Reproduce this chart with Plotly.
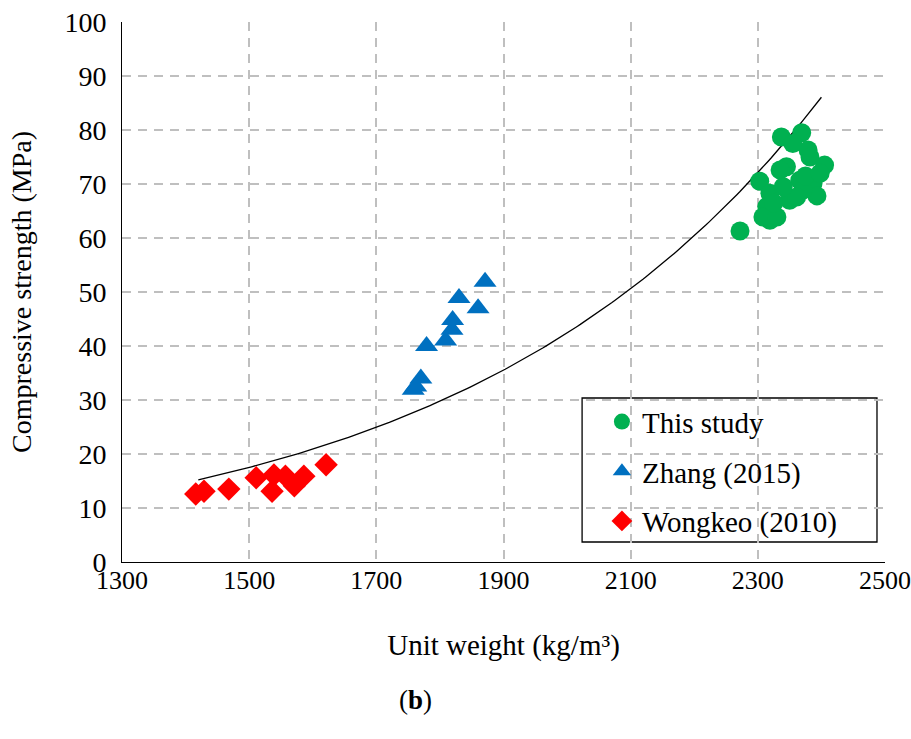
import numpy as np
import plotly.graph_objects as go

# This study
this_x = [2272, 2337, 2369, 2379, 2382, 2345, 2405, 2303, 2335, 2366, 2387, 2319, 2393,
          2314, 2350, 2319, 2308, 2371, 2361, 2330, 2355, 2375, 2340, 2398, 2325]
this_y = [61.3, 78.7, 79.5, 76.3, 75.0, 73.2, 73.5, 70.5, 72.6, 70.7, 70.2, 68.3, 67.8,
          65.8, 67.0, 63.3, 63.9, 68.9, 67.6, 63.9, 77.5, 71.5, 69.5, 72.0, 66.5]
# Zhang (2015)
zhang_x = [1758, 1762, 1770, 1779, 1809, 1819, 1820, 1830, 1860, 1871]
zhang_y = [31.9, 32.5, 34.0, 40.0, 41.0, 43.0, 44.8, 48.9, 47.0, 51.9]
# Wongkeo (2010)
wong_x = [1416, 1429, 1468, 1511, 1536, 1539, 1557, 1571, 1586, 1621]
wong_y = [12.6, 13.1, 13.5, 15.6, 13.1, 16.1, 15.9, 14.1, 15.9, 18.0]

# exponential trendline y = a*exp(b*x)
trend_a = 1.233
trend_b = 0.001769
trend_range = [1420, 2400]

x_ticks = [1300, 1500, 1700, 1900, 2100, 2300, 2500]
y_ticks = list(range(0, 101, 10))

tx = np.linspace(trend_range[0], trend_range[1], 200)
ty = trend_a * np.exp(trend_b * tx)

fig = go.Figure()
fig.add_trace(go.Scatter(x=tx, y=ty, mode="lines", line=dict(color="black", width=1.3),
                         showlegend=False, hoverinfo="skip"))
fig.add_trace(go.Scatter(x=this_x, y=this_y, mode="markers", name="This study",
                         legendgroup="a",
                         marker=dict(symbol="circle", size=19, color="#00B050")))
fig.add_trace(go.Scatter(x=zhang_x, y=zhang_y, mode="markers", name="Zhang (2015)",
                         legendgroup="b",
                         marker=dict(symbol="triangle-up", size=20, color="#0070C0")))
fig.add_trace(go.Scatter(x=wong_x, y=wong_y, mode="markers", name="Wongkeo (2010)",
                         legendgroup="c",
                         marker=dict(symbol="diamond", size=18, color="#FF0000")))

font = "Liberation Serif, Times New Roman, serif"
grid = dict(showgrid=True, gridcolor="#BFBFBF", griddash="9px,7px", gridwidth=1.6,
            zeroline=False, showline=True, linecolor="black", linewidth=1, ticks="",
            automargin=False, ticklabeloverflow="allow")
fig.update_layout(
    width=911, height=739,
    margin=dict(l=122, r=26, t=22, b=177),
    paper_bgcolor="white", plot_bgcolor="white",
    font=dict(family=font, size=26, color="black"),
    showlegend=True,
    legend=dict(x=0.629, y=0.307, xanchor="left", yanchor="top",
                borderwidth=0, bgcolor="rgba(0,0,0,0)",
                font=dict(size=29, family=font), tracegroupgap=9,
                itemsizing="trace"),
    xaxis=dict(range=[1300, 2500], tickvals=x_ticks, tickfont=dict(size=26),
               ticklabelstandoff=-5,
               title=dict(text="Unit weight (kg/m³)", font=dict(size=29), standoff=40),
               **grid),
    yaxis=dict(range=[0, 100], tickvals=y_ticks, tickfont=dict(size=28),
               ticklabelstandoff=9,
               title=dict(text="Compressive strength (MPa)", font=dict(size=28), standoff=24),
               **grid),
    shapes=[dict(type="rect", xref="paper", yref="paper", x0=0.603, x1=0.9895,
                 y0=0.037, y1=0.3037, line=dict(color="black", width=1.3),
                 fillcolor="white", layer="below")],
    annotations=[dict(text="(<b>b</b>)", x=0.385, y=-0.256, xref="paper", yref="paper",
                      xanchor="center", yanchor="middle",
                      showarrow=False, font=dict(size=27, family=font))],
)
fig.write_html("out.html")
